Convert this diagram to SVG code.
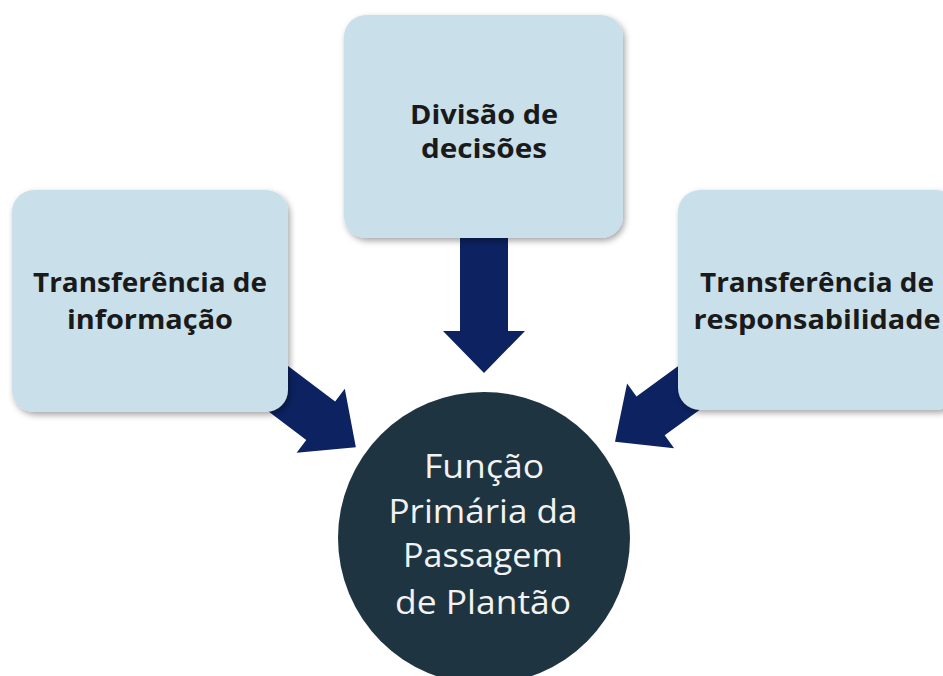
<svg xmlns="http://www.w3.org/2000/svg" width="943" height="676" viewBox="0 0 943 676">
<defs>
<style>
.box{fill:#c9e0ea;filter:url(#sh)}
.bt{font-family:"Open Sans","Noto Sans",sans-serif;font-weight:bold;font-size:27px;fill:#1a1a1a;text-anchor:middle}
.ct{font-family:"Open Sans","Noto Sans",sans-serif;font-size:33px;fill:#f2f2f2;text-anchor:middle}
.arr{fill:#0c2261}
</style>
<filter id="sh" x="-10%" y="-10%" width="130%" height="130%">
<feDropShadow dx="2" dy="3" stdDeviation="3" flood-color="#000" flood-opacity="0.35"/>
</filter>
</defs>
<rect width="943" height="676" fill="#ffffff"/>
<g id="connectors">
<path class="arr" transform="translate(484,220) rotate(90)" d="M0,-24 L111,-24 L111,-41 L153,0 L111,41 L111,24 L0,24 Z"/>
<path class="arr" transform="translate(268,381) rotate(37)" d="M0,-24 L66,-24 L66,-40 L110,0 L66,40 L66,24 L0,24 Z"/>
<path class="arr" transform="translate(704,377) rotate(144)" d="M0,-24 L66,-24 L66,-40 L110,0 L66,40 L66,24 L0,24 Z"/>
</g>
<g id="node-divisao">
<rect class="box" x="344" y="15" width="279" height="223" rx="22"/>
<text class="bt" x="484" y="124" textLength="148" lengthAdjust="spacingAndGlyphs">Divisão de</text>
<text class="bt" x="484" y="158" textLength="126" lengthAdjust="spacingAndGlyphs">decisões</text>
</g>
<g id="node-informacao">
<rect class="box" x="12" y="190" width="276" height="222" rx="22"/>
<text class="bt" x="150" y="292" textLength="234" lengthAdjust="spacingAndGlyphs">Transferência de</text>
<text class="bt" x="150" y="329" textLength="166" lengthAdjust="spacingAndGlyphs">informação</text>
</g>
<g id="node-responsabilidade">
<rect class="box" x="678" y="190" width="280" height="220" rx="22"/>
<text class="bt" x="817" y="292" textLength="234" lengthAdjust="spacingAndGlyphs">Transferência de</text>
<text class="bt" x="817" y="329" textLength="247" lengthAdjust="spacingAndGlyphs">responsabilidade</text>
</g>
<g id="node-funcao">
<circle cx="484" cy="538" r="146" fill="#1e3441"/>
<text class="ct" x="484" y="478" textLength="120" lengthAdjust="spacingAndGlyphs">Função</text>
<text class="ct" x="483" y="523" textLength="189" lengthAdjust="spacingAndGlyphs">Primária da</text>
<text class="ct" x="483" y="567" textLength="160" lengthAdjust="spacingAndGlyphs">Passagem</text>
<text class="ct" x="483" y="614" textLength="176" lengthAdjust="spacingAndGlyphs">de Plantão</text>
</g>
</svg>
